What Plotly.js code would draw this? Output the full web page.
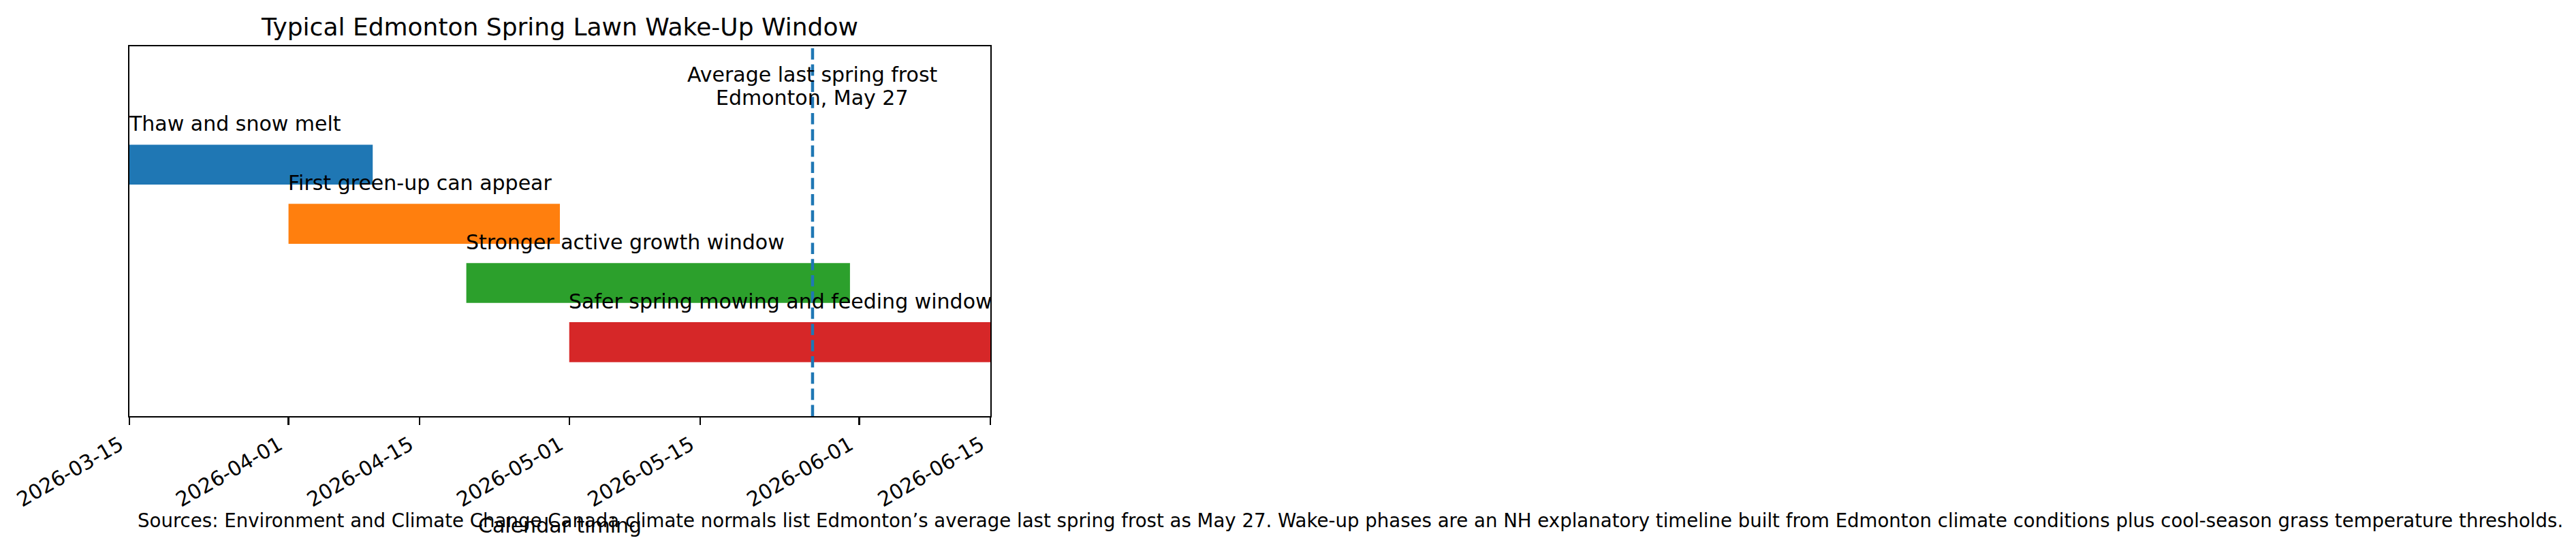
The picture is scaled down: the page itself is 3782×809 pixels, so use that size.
<!DOCTYPE html>
<html>
<head>
<meta charset="utf-8">
<script src="https://cdn.plot.ly/plotly-3.0.1.min.js"></script>
<style>
  body { margin: 0; background: #fff; }
  #chart { width: 3782px; height: 809px; }
</style>
</head>
<body>
<div id="chart"></div>
<script>
// phases of the lawn wake-up timeline
var phases = ['Thaw and snow melt', 'First green-up can appear', 'Stronger active growth window', 'Safer spring mowing and feeding window'];
var phaseStarts = ['2026-03-15', '2026-04-01', '2026-04-20', '2026-05-01'];
var phaseEnds = ['2026-04-10', '2026-04-30', '2026-05-31', '2026-06-15'];
var phaseColors = ['#1f77b4', '#ff7f0e', '#2ca02c', '#d62728'];

var frostDate = '2026-05-27';
var frostLines = ['Average last spring frost', 'Edmonton, May 27'];

var tickDates = ['2026-03-15', '2026-04-01', '2026-04-15', '2026-05-01', '2026-05-15', '2026-06-01', '2026-06-15'];
var xRange = ['2026-03-15', '2026-06-15'];

var sourceNote = 'Sources: Environment and Climate Change Canada climate normals list Edmonton\u2019s average last spring frost as May 27. Wake-up phases are an NH explanatory timeline built from Edmonton climate conditions plus cool-season grass temperature thresholds.';

var rows = phases.map(function(p, i){ return i; });
var durations = phases.map(function(p, i){
    return Date.parse(phaseEnds[i]) - Date.parse(phaseStarts[i]);
});

var bars = {
    type: 'bar',
    orientation: 'h',
    y: rows,
    x: durations,
    base: phaseStarts,
    width: 0.675,
    marker: {color: phaseColors, line: {width: 0}},
    hoverinfo: 'skip',
    showlegend: false
};

var annotations = phases.map(function(p, i){
    return {
        x: phaseStarts[i], y: i - 0.47,
        xref: 'x', yref: 'y',
        text: p, showarrow: false,
        xanchor: 'left', yanchor: 'bottom', xshift: -3,
        font: {size: 30, color: '#000'}
    };
});

// two separate lines so the spacing stays tight like the original
var frostY = [-1.527, -1.135];
frostLines.forEach(function(t, i){
    annotations.push({
        x: frostDate, y: frostY[i], xref: 'x', yref: 'y',
        text: t, showarrow: false,
        xanchor: 'center', yanchor: 'middle',
        font: {size: 30, color: '#000'}
    });
});

// x axis title sits right on top of the sources line
annotations.push({
    x: 0.5, y: -0.2965, xref: 'paper', yref: 'paper',
    text: 'Calendar timing', showarrow: false,
    xanchor: 'center', yanchor: 'middle',
    font: {size: 30, color: '#000'}
});

annotations.push({
    x: 1.4185, y: -0.282, xref: 'paper', yref: 'paper',
    text: sourceNote, showarrow: false,
    xanchor: 'center', yanchor: 'middle',
    font: {size: 27.6, color: '#000'}
});

var layout = {
    width: 3782,
    height: 809,
    margin: {l: 190, r: 2328, t: 68, b: 198},
    paper_bgcolor: '#fff',
    plot_bgcolor: '#fff',
    font: {family: 'DejaVu Sans, sans-serif', color: '#000'},
    title: {
        text: 'Typical Edmonton Spring Lawn Wake-Up Window',
        font: {size: 36, color: '#000'},
        x: 0.5, xref: 'paper', xanchor: 'center',
        y: 1 - 39 / 809, yref: 'container', yanchor: 'middle'
    },
    xaxis: {
        type: 'date',
        range: xRange,
        tickvals: tickDates,
        ticktext: tickDates,
        tickangle: -30,
        ticklabelshift: -14,
        ticks: 'outside', ticklen: 10.5, tickwidth: 2.4, tickcolor: '#000',
        tickfont: {size: 30, color: '#000'},
        showgrid: false, zeroline: false,
        showline: true, linewidth: 2.4, linecolor: '#000', mirror: true
    },
    yaxis: {
        range: [4.25, -2],
        showticklabels: false, ticks: '',
        showgrid: false, zeroline: false,
        showline: true, linewidth: 2.4, linecolor: '#000', mirror: true
    },
    shapes: [{
        type: 'line', xref: 'x', yref: 'paper',
        x0: frostDate, x1: frostDate, y0: 0, y1: 1,
        line: {color: '#1f77b4', width: 4.5, dash: '16.6px,7.2px'}
    }],
    annotations: annotations
};

Plotly.newPlot('chart', [bars], layout, {displayModeBar: false, staticPlot: true});
</script>
</body>
</html>
